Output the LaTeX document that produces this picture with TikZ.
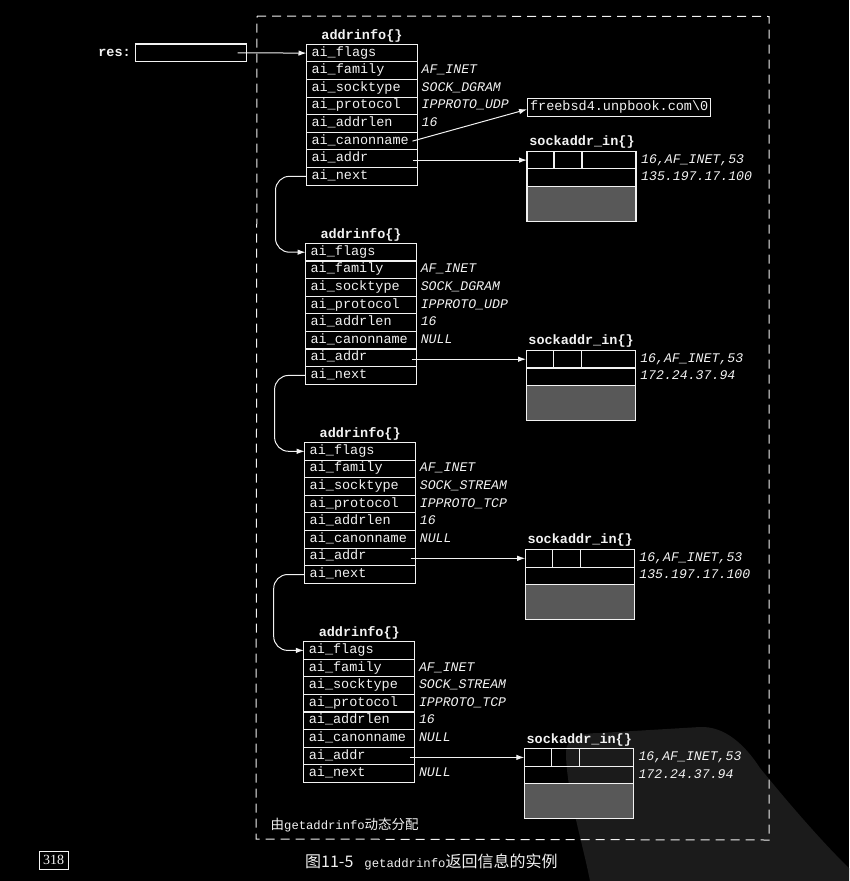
\documentclass[tikz,border=0pt]{standalone}
\usepackage{fontspec}
\setmainfont{Liberation Serif}
\setmonofont{Liberation Mono}
\newfontfamily\cjk{Noto Sans CJK SC}
\usetikzlibrary{arrows.meta}

\definecolor{paper}{HTML}{000000}
\definecolor{ink}{HTML}{F2F2F2}
\definecolor{shade}{HTML}{585858}
\definecolor{stamp}{HTML}{1B1B1B}

\tikzset{
  every node/.style={text=ink},
  field/.style={draw=ink, line width=1.1pt, anchor=north west, outer sep=0pt,
    minimum height=17.6pt, text width=101pt, inner xsep=5pt, inner ysep=0pt,
    align=left, text height=8.5pt, text depth=2.5pt,
    font=\fontsize{13.5}{15}\selectfont\ttfamily},
  cell/.style={draw=ink, line width=1.1pt, anchor=north west, outer sep=0pt,
    minimum height=17.6pt, inner sep=0pt},
  val/.style={anchor=west, inner sep=0pt, text height=8.5pt, text depth=2.5pt,
    font=\fontsize{13.2}{15}\selectfont\ttfamily\itshape},
  title/.style={inner sep=0pt, font=\fontsize{13.5}{15}\selectfont\ttfamily\bfseries},
  ptr/.style={draw=ink, line width=1pt, -{Latex[length=8pt,width=5.5pt]}},
  frame/.style={draw=ink, line width=1pt, dash pattern=on 9pt off 6pt},
}

% one addrinfo{} structure with the sockaddr_in{} it points to
% #1 id, #2 top y, #3 socktype, #4 protocol, #5 canonname value,
% #6 next value, #7 IP address, #8 horizontal shift
\newcommand\aiblock[8]{%
  \begin{scope}[xshift=#8pt]
    \node[title] (#1-title) at (362,#2-8.5) {addrinfo\{\}};
    \node[field] (#1-flags) at (306.5,#2) {ai\_flags};
    \node[field] (#1-family) at (#1-flags.south west) {ai\_family};
    \node[field] (#1-socktype) at (#1-family.south west) {ai\_socktype};
    \node[field] (#1-protocol) at (#1-socktype.south west) {ai\_protocol};
    \node[field] (#1-addrlen) at (#1-protocol.south west) {ai\_addrlen};
    \node[field] (#1-canon) at (#1-addrlen.south west) {ai\_canonname};
    \node[field] (#1-addr) at (#1-canon.south west) {ai\_addr};
    \node[field] (#1-next) at (#1-addr.south west) {ai\_next};
    \node[val] (#1-familyv) at ([xshift=4pt]#1-family.east) {AF\_INET};
    \node[val] (#1-socktypev) at ([xshift=4pt]#1-socktype.east) {#3};
    \node[val] (#1-protocolv) at ([xshift=4pt]#1-protocol.east) {#4};
    \node[val] (#1-addrlenv) at ([xshift=4pt]#1-addrlen.east) {16};
    \node[val] (#1-canonv) at ([xshift=4pt]#1-canon.east) {#5};
    \node[val] (#1-nextv) at ([xshift=4pt]#1-next.east) {#6};
    \coordinate (#1-canonp) at ([xshift=-5pt]#1-canon.east);
    \coordinate (#1-addrp) at ([xshift=-5pt]#1-addr.east);
    % sockaddr_in{}
    \node[title] (#1-satitle) at (582,#2+98) {sockaddr\_in\{\}};
    \node[cell, minimum width=27pt] (#1-sa1) at (527,#2+107) {};
    \node[cell, minimum width=28pt] (#1-sa2) at (#1-sa1.north east) {};
    \node[cell, minimum width=54pt] (#1-sa3) at (#1-sa2.north east) {};
    \node[cell, minimum width=109pt] (#1-sarow) at (#1-sa1.south west) {};
    \node[cell, minimum width=109pt, minimum height=34.7pt, fill=shade] (#1-sadata) at (#1-sarow.south west) {};
    \node[val] (#1-sav1) at ([xshift=5pt]#1-sa3.east) {16,\hspace{0pt}AF\_INET,\hspace{0pt}53};
    \node[val] (#1-sav2) at ([xshift=5pt]#1-sarow.east) {#7};
    \draw[ptr] (#1-sa1.west -| #1-addrp) -- (#1-sa1.west);
  \end{scope}}

\begin{document}
\begin{tikzpicture}[x=1pt,y=-1pt]
  \useasboundingbox (0,0) rectangle (849,881);
  \fill[paper] (0,0) rectangle (849,881);

  % faint stamp in the lower right corner
  \fill[stamp] (590,881) .. controls (582,840) and (566,790) .. (566,752)
    .. controls (566,738) and (580,733) .. (600,733)
    -- (700,727) .. controls (725,726) and (745,745) .. (760,768)
    .. controls (790,805) and (825,845) .. (849,868) -- (849,881) -- cycle;

  % memory allocated by getaddrinfo
  \draw[frame] (257,16) -- (769,16.5) -- (769,840) -- (256,839) -- cycle;

  % res pointer
  \node[title, anchor=east] (reslabel) at (131,52.5) {res:};
  \node[cell, minimum width=111pt] (resbox) at (135.5,44) {};
  \coordinate (resp) at ([xshift=-9pt]resbox.east);

  \aiblock{a}{44.3}{SOCK\_DGRAM}{IPPROTO\_UDP}{}{}{135.197.17.100}{0}
  \aiblock{b}{243.4}{SOCK\_DGRAM}{IPPROTO\_UDP}{NULL}{}{172.24.37.94}{-0.9}
  \aiblock{c}{442.5}{SOCK\_STREAM}{IPPROTO\_TCP}{NULL}{}{135.197.17.100}{-1.8}
  \aiblock{d}{641.6}{SOCK\_STREAM}{IPPROTO\_TCP}{NULL}{NULL}{172.24.37.94}{-2.7}

  % canonical name string
  \node[draw=ink, line width=1.1pt, anchor=north west, inner xsep=2.5pt, inner ysep=0pt,
    minimum height=17.6pt, text height=8.5pt, text depth=2.5pt,
    font=\fontsize{13.5}{15}\selectfont\ttfamily] (canon) at (527,98) {freebsd4.unpbook.com\textbackslash 0};

  \draw[ptr] (resp) -- (a-flags.west);
  \draw[ptr] (a-canonp) -- ([yshift=-2pt]canon.west);
  \draw[ptr, rounded corners=14pt] (a-next.west) -- ++(-31,0) |- (b-flags.west);
  \draw[ptr, rounded corners=14pt] (b-next.west) -- ++(-31,0) |- (c-flags.west);
  \draw[ptr, rounded corners=14pt] (c-next.west) -- ++(-31,0) |- (d-flags.west);

  \node[anchor=west, inner sep=0pt] (alloc) at (270.5,825.5)
    {\cjk\fontsize{13.5}{15}\selectfont 由{\ttfamily\fontsize{12.2}{14}\selectfont getaddrinfo}动态分配};

  % caption and page number
  \node[anchor=west, inner sep=0pt] (caption) at (305,862)
    {\cjk\fontsize{16}{18}\selectfont 图11-5\hspace{11pt}{\ttfamily\fontsize{12.3}{14}\selectfont getaddrinfo}返回信息的实例};
  \node[draw=ink!75, line width=0.8pt, inner xsep=2pt, inner ysep=1pt, minimum width=29pt, minimum height=18pt,
    font=\fontsize{14}{16}\selectfont] (page) at (53.5,860) {318};
\end{tikzpicture}
\end{document}
